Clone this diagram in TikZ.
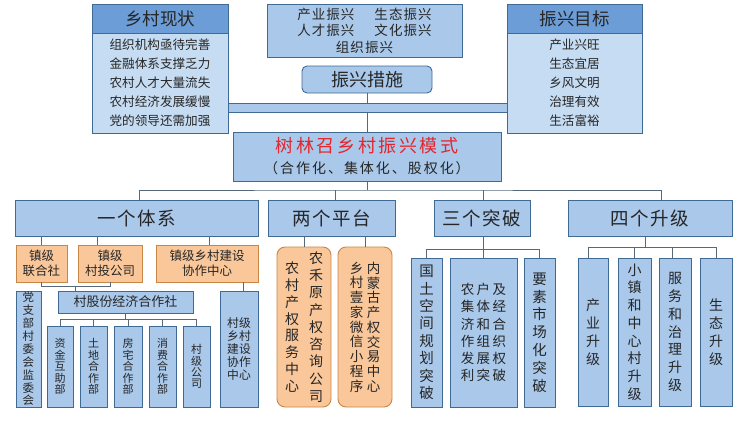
\documentclass[tikz,border=0pt]{standalone}
\usepackage{fontspec}
\setmainfont{Noto Sans CJK SC}
\newfontfamily\cjkwide[LetterSpace=14]{Noto Sans CJK SC}
\newfontfamily\cjkmid[LetterSpace=8]{Noto Sans CJK SC}
\newfontfamily\cjkloose[LetterSpace=18]{Noto Sans CJK SC}
\usepackage{tikz}
\usetikzlibrary{calc}
\definecolor{boxblue}{HTML}{A9C8EA}
\definecolor{hdblue}{HTML}{6C9DD6}
\definecolor{paleblue}{HTML}{C6DCF2}
\definecolor{edgeblue}{HTML}{3F6A94}
\definecolor{orgfill}{HTML}{F9C79A}
\definecolor{orgedge}{HTML}{C98745}
\definecolor{wirec}{HTML}{56687A}
\definecolor{txt}{HTML}{262626}
\definecolor{titred}{HTML}{E3262E}
\newcommand{\fsz}[2]{\fontsize{#1}{#2}\selectfont}

\begin{document}
\begin{tikzpicture}[x=1pt, y=-1pt,
    bluebox/.style={draw=edgeblue, fill=boxblue, line width=0.9pt, inner sep=0pt, align=center, text=txt},
    orgbox/.style={draw=orgedge, fill=orgfill, line width=0.9pt, inner sep=0pt, align=center, text=txt},
    coltext/.style={inner sep=0pt, align=center, text=txt},
    wire/.style={draw=wirec, line width=0.8pt}]
\useasboundingbox (0,0) rectangle (745,424);

% top: situation, measures, goals
\node[bluebox, minimum width=279, minimum height=9] (bar) at (367.5,107.5) {};
\node[bluebox, fill=hdblue, minimum width=136, minimum height=29, font=\fsz{17.5}{20}] (xzh) at (160,18.5) {乡村现状};
\node[bluebox, fill=paleblue, minimum width=136, minimum height=100, font=\fsz{12.6}{19}] (xz) at (160,83)
    {组织机构亟待完善\\金融体系支撑乏力\\农村人才大量流失\\农村经济发展缓慢\\党的领导还需加强};
\node[bluebox, fill=hdblue, minimum width=135, minimum height=29, font=\fsz{17.5}{20}] (mbh) at (574.5,18.5) {振兴目标};
\node[bluebox, fill=paleblue, minimum width=135, minimum height=100, font=\fsz{12.6}{19}] (mb) at (574.5,83)
    {产业兴旺\\生态宜居\\乡风文明\\治理有效\\生活富裕};
\node[bluebox, minimum width=195, minimum height=53, font=\cjkmid\fsz{13.5}{16.5}] (zx) at (364.5,30.5)
    {产业振兴\hspace{20pt}生态振兴\\人才振兴\hspace{20pt}文化振兴\\组织振兴};
\node[bluebox, rounded corners=5, minimum width=130, minimum height=27, font=\fsz{18}{20}] (cs) at (367,79.5) {振兴措施};

% model
\node[bluebox, minimum width=268, minimum height=49, font=\fsz{18}{21}] (main) at (367,156.5)
    {{\cjkwide\color{titred}树林召乡村振兴模式}\\{\cjkwide\fsz{14}{21}（合作化、集体化、股权化）}};
\draw[wire] (cs.south) -- (cs.south |- bar.north);
\draw[wire] (bar.south -| main.north) -- (main.north);

% second level
\node[bluebox, minimum width=243, minimum height=36, font=\cjkmid\fsz{18.5}{20}] (yt) at (136.5,218) {一个体系};
\node[bluebox, minimum width=127, minimum height=36, font=\cjkmid\fsz{18.5}{20}] (lp) at (331.5,218) {两个平台};
\node[bluebox, minimum width=96, minimum height=36, font=\cjkmid\fsz{18.5}{20}] (st) at (482,218) {三个突破};
\node[bluebox, minimum width=164, minimum height=36, font=\cjkmid\fsz{18.5}{20}] (sj) at (650,218.5) {四个升级};
\coordinate (hub) at (367,190);
\draw[wire] (main.south) -- (hub);
\draw[wire] ([xshift=2.5]yt.north) |- (hub) -| ([xshift=11]sj.north);
\draw[wire] ([xshift=3.5]lp.north) -- ([xshift=3.5]lp.north |- hub);
\draw[wire] ([xshift=1]st.north) -- ([xshift=1]st.north |- hub);

% one system
\node[orgbox, minimum width=51, minimum height=37, font=\fsz{12.5}{15}] (zl) at (41.5,263.5) {镇级\\联合社};
\node[orgbox, minimum width=64, minimum height=37, font=\fsz{12.5}{15}] (zt) at (110,263.5) {镇级\\村投公司};
\node[orgbox, minimum width=102, minimum height=37, font=\fsz{12.5}{15}] (zj) at (207,263.5) {镇级乡村建设\\协作中心};
\draw[wire] (zl.north) -- (zl.north |- yt.south);
\draw[wire] ([xshift=-13]zt.north) -- ([xshift=-13]zt.north |- yt.south);
\draw[wire] ([xshift=2]zj.north) -- ([xshift=2]zj.north |- yt.south);

\node[bluebox, minimum width=25, minimum height=116, font=\fsz{11.5}{12.9}] (dz) at (28.5,349) {党\\支\\部\\村\\委\\会\\监\\委\\会};
\node[bluebox, minimum width=135, minimum height=22, font=\fsz{13}{15}] (gf) at (125.5,302) {村股份经济合作社};
\node[bluebox, minimum width=38, minimum height=116, font=\fsz{11.8}{13}] (cj) at (239,349) {村级\\乡村\\建设\\协作\\中心};
\draw[wire] (zl.south) -- ++(0,4) coordinate (zjoin) -| (zt.south);
\path ($(zl.south)!.5!(zt.south)$) ++(0,4) coordinate (zmid);
\draw[wire] (zmid) -- (zmid |- gf.north);
\draw[wire] ([xshift=4]cj.north) -- ([xshift=4]cj.north |- zj.south);

\node[bluebox, minimum width=26, minimum height=81, font=\fsz{11}{11.6}] (zjh) at (60,366.5) {资\\金\\互\\助\\部};
\node[bluebox, minimum width=27, minimum height=81, font=\fsz{11}{11.6}] (tdh) at (93.5,366.5) {土\\地\\合\\作\\部};
\node[bluebox, minimum width=28, minimum height=81, font=\fsz{11}{11.6}] (fzh) at (128,366.5) {房\\宅\\合\\作\\部};
\node[bluebox, minimum width=27, minimum height=81, font=\fsz{11}{11.6}] (xfh) at (162.5,366.5) {消\\费\\合\\作\\部};
\node[bluebox, minimum width=27, minimum height=81, font=\fsz{11}{11.2}] (cgs) at (196.5,366.5) {村\\级\\公\\司};
\draw[wire] (gf.south) -- ++(0,6) coordinate (gfhub);
\draw[wire] (zjh.north) |- (gfhub) -| (cgs.north);
\foreach \nm in {tdh,fzh,xfh}
    \draw[wire] (\nm.north) -- (\nm.north |- gfhub);

% two platforms
\node[orgbox, rounded corners=8, minimum width=54, minimum height=160] (pq1) at (304,327) {};
\node[orgbox, rounded corners=8, minimum width=54, minimum height=160] (pq2) at (365,327) {};
\node[coltext, font=\fsz{14}{16.9}] (pq1a) at ([xshift=-12]pq1.center) {农\\村\\产\\权\\服\\务\\中\\心};
\node[coltext, font=\fsz{14}{17.3}] (pq1b) at ([xshift=12]pq1.center) {农\\禾\\原\\产\\权\\咨\\询\\公\\司};
\node[coltext, font=\fsz{13.5}{14.75}] (pq2a) at ([xshift=-8.5]pq2.center) {乡\\村\\壹\\家\\微\\信\\小\\程\\序};
\node[coltext, font=\fsz{13.5}{14.75}] (pq2b) at ([xshift=8.5]pq2.center) {内\\蒙\\古\\产\\权\\交\\易\\中\\心};
\draw[wire] (pq1.north) -- (pq1.north |- lp.south);
\draw[wire] (pq2.north) -- (pq2.north |- lp.south);

% three breakthroughs
\node[bluebox, minimum width=31, minimum height=149, font=\fsz{14.5}{17.4}] (gt) at (426.5,332.5) {国\\土\\空\\间\\规\\划\\突\\破};
\node[bluebox, minimum width=67, minimum height=149, font=\cjkloose\fsz{13.5}{17.3}] (nh) at (483.5,332.5)
    {农户及\\集体经\\济和合\\作组织\\发展权\\利突破};
\node[bluebox, minimum width=31, minimum height=149, font=\fsz{14.5}{17.8}] (ys) at (539.5,332.5) {要\\素\\市\\场\\化\\突\\破};
\draw[wire] ([xshift=1]st.south) -- ++(0,13) coordinate (sthub);
\draw[wire] (gt.north) |- (sthub) -| (ys.north);
\draw[wire] (nh.north) -- (nh.north |- sthub);

% four upgrades
\node[bluebox, minimum width=30, minimum height=148, font=\fsz{14}{18}] (cy) at (593,332) {产\\业\\升\\级};
\node[bluebox, minimum width=33, minimum height=148, font=\fsz{14}{17.7}] (xzc) at (634.5,332) {小\\镇\\和\\中\\心\\村\\升\\级};
\node[bluebox, minimum width=32, minimum height=148, font=\fsz{14}{17.7}] (fw) at (675,332) {服\\务\\和\\治\\理\\升\\级};
\node[bluebox, minimum width=32, minimum height=148, font=\fsz{14}{18}] (stj) at (716,332) {生\\态\\升\\级};
\draw[wire] ([xshift=-5]sj.south) -- ++(0,10) coordinate (sjhub);
\draw[wire] ([xshift=-5]cy.north) |- (sjhub) -| (stj.north);
\draw[wire] (xzc.north) -- (xzc.north |- sjhub);
\draw[wire] ([xshift=-3]fw.north) -- ([xshift=-3]fw.north |- sjhub);
\end{tikzpicture}
\end{document}
